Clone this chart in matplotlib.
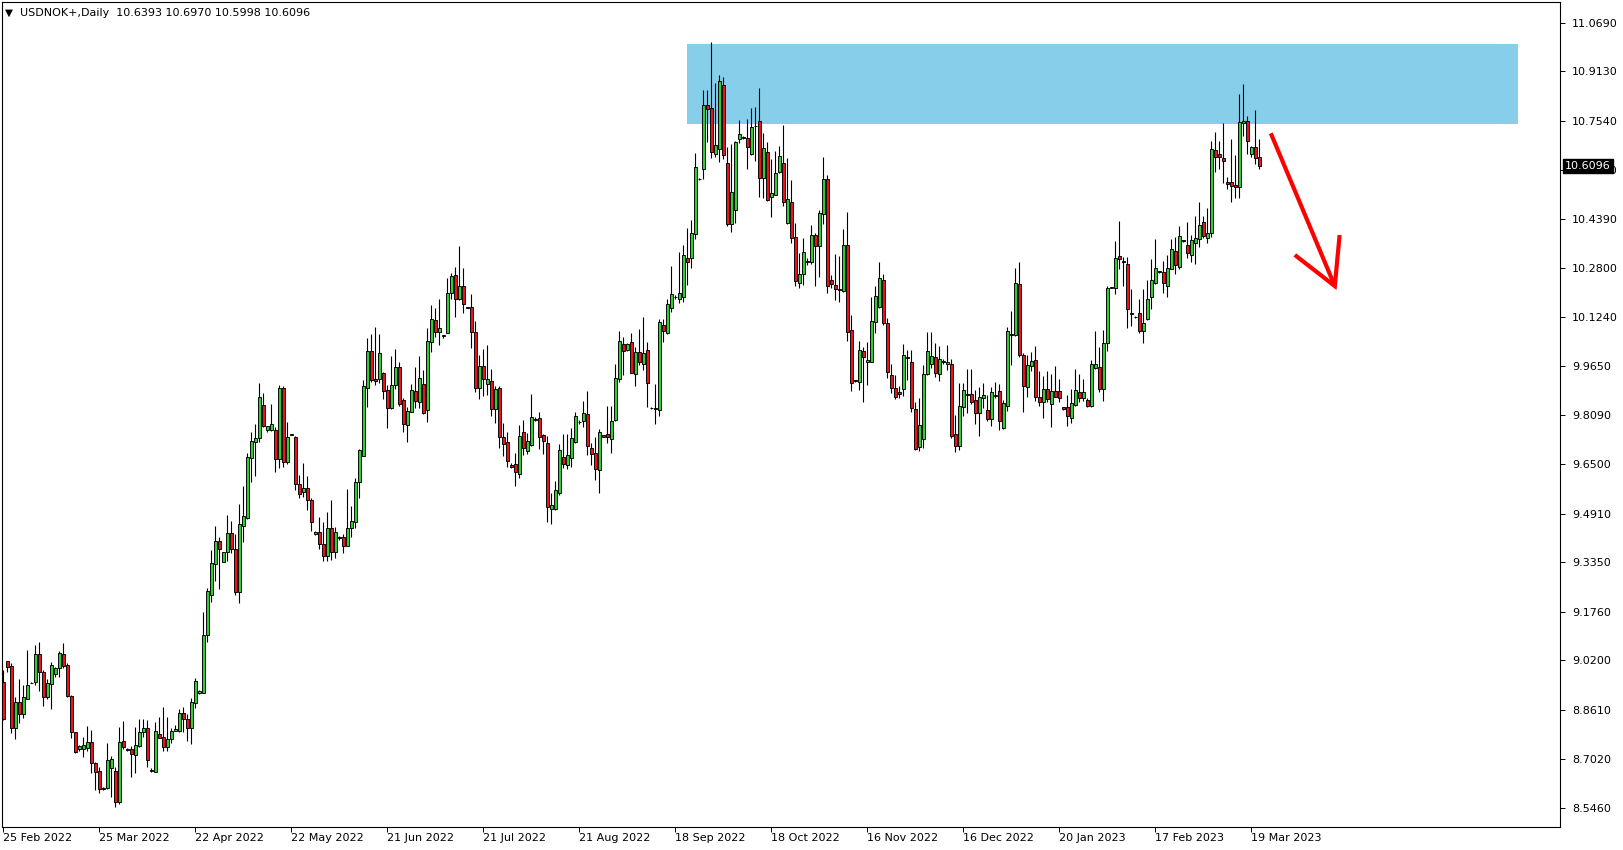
import matplotlib
matplotlib.use("Agg")
import matplotlib.pyplot as plt
from matplotlib.patches import Rectangle
from matplotlib.transforms import blended_transform_factory

# ---------------- data (USDNOK+, Daily) ----------------
opens = [
    8.951, 9.017, 9.001, 8.801, 8.886, 8.849, 8.897, 8.947, 8.949, 9.042,
    8.981, 8.901, 8.943, 8.975, 8.994, 9.042, 9.005, 8.904, 8.789, 8.734,
    8.736, 8.737, 8.756, 8.690, 8.663, 8.605, 8.609, 8.673, 8.664, 8.564,
    8.761, 8.735, 8.735, 8.716, 8.746, 8.789, 8.803, 8.666, 8.662, 8.782,
    8.773, 8.742, 8.766, 8.794, 8.793, 8.850, 8.832, 8.801, 8.882, 8.914,
    8.916, 9.101, 9.230, 9.329, 9.404, 9.337, 9.367, 9.428, 9.378, 9.241,
    9.453, 9.479, 9.669, 9.723, 9.734, 9.840, 9.759, 9.759, 9.760, 9.666,
    9.894, 9.659, 9.744, 9.738, 9.587, 9.560, 9.573, 9.535, 9.425, 9.431,
    9.395, 9.356, 9.447, 9.367, 9.417, 9.415, 9.389, 9.444, 9.466, 9.592,
    9.678, 9.896, 10.013, 9.923, 9.924, 9.942, 9.888, 9.830, 9.904, 9.962,
    9.856, 9.778, 9.819, 9.885, 9.851, 9.907, 9.826, 10.044, 10.113, 10.076,
    10.066, 10.073, 10.200, 10.257, 10.180, 10.222, 10.155, 10.155, 10.076, 9.896,
    9.965, 9.907, 9.918, 9.827, 9.894, 9.738, 9.721, 9.647, 9.650, 9.618,
    9.753, 9.694, 9.713, 9.793, 9.798, 9.744, 9.717, 9.508, 9.508, 9.559,
    9.672, 9.649, 9.671, 9.723, 9.785, 9.788, 9.811, 9.701, 9.685, 9.633,
    9.743, 9.746, 9.733, 9.791, 9.925, 10.036, 10.017, 10.042, 9.939, 10.010,
    9.972, 10.016, 9.832, 9.830, 9.825, 10.097, 10.071, 10.151, 10.189, 10.180,
    10.189, 10.312, 10.312, 10.390, 10.568, 10.598, 10.804, 10.794, 10.646, 10.665,
    10.868, 10.617, 10.421, 10.468, 10.695, 10.701, 10.698, 10.646, 10.739, 10.752,
    10.571, 10.653, 10.508, 10.517, 10.591, 10.617, 10.427, 10.492, 10.380, 10.232,
    10.261, 10.302, 10.301, 10.387, 10.353, 10.455, 10.566, 10.242, 10.225, 10.213,
    10.208, 10.355, 10.081, 9.920, 9.916, 10.014, 9.978, 9.980, 10.106, 10.157,
    10.242, 10.103, 9.937, 9.894, 9.881, 9.893, 9.995, 9.979, 9.827, 9.707,
    9.733, 9.939, 9.973, 9.995, 9.939, 9.978, 9.971, 9.974, 9.746, 9.710,
    9.835, 9.875, 9.875, 9.856, 9.816, 9.862, 9.825, 9.797, 9.874, 9.885,
    9.766, 9.838, 10.069, 10.066, 10.229, 10.001, 9.897, 9.965, 9.985, 9.865,
    9.851, 9.892, 9.843, 9.886, 9.885, 9.834, 9.833, 9.800, 9.841, 9.881,
    9.862, 9.856, 9.838, 9.961, 9.962, 9.891, 10.039, 10.218, 10.216, 10.319,
    10.302, 10.294, 10.132, 10.124, 10.135, 10.080, 10.116, 10.189, 10.232, 10.270,
    10.268, 10.224, 10.279, 10.336, 10.285, 10.370, 10.355, 10.322, 10.360, 10.373,
    10.428, 10.379, 10.394, 10.659, 10.649, 10.634, 10.556, 10.559, 10.548, 10.543,
    10.746, 10.752, 10.646, 10.670, 10.6393,
]
highs = [
    8.989, 9.017, 9.010, 8.903, 8.959, 8.941, 9.053, 8.951, 9.069, 9.078,
    8.989, 8.959, 9.014, 9.000, 9.049, 9.075, 9.010, 8.909, 8.791, 8.748,
    8.775, 8.809, 8.796, 8.694, 8.678, 8.614, 8.753, 8.714, 8.678, 8.807,
    8.825, 8.739, 8.745, 8.807, 8.830, 8.830, 8.828, 8.673, 8.821, 8.837,
    8.869, 8.839, 8.801, 8.812, 8.864, 8.871, 8.846, 8.898, 8.962, 8.925,
    9.176, 9.254, 9.375, 9.452, 9.418, 9.369, 9.487, 9.468, 9.425, 9.521,
    9.581, 9.685, 9.755, 9.779, 9.910, 9.878, 9.774, 9.843, 9.771, 9.905,
    9.903, 9.787, 9.747, 9.740, 9.616, 9.653, 9.612, 9.541, 9.437, 9.480,
    9.466, 9.498, 9.535, 9.450, 9.420, 9.426, 9.571, 9.517, 9.607, 9.699,
    9.921, 10.057, 10.069, 10.091, 10.069, 9.946, 9.905, 9.999, 10.021, 9.980,
    9.862, 9.835, 9.908, 9.963, 9.999, 9.953, 10.087, 10.162, 10.151, 10.181,
    10.067, 10.248, 10.264, 10.283, 10.352, 10.280, 10.156, 10.196, 10.111, 10.003,
    10.020, 10.033, 9.958, 9.902, 9.902, 9.784, 9.754, 9.653, 9.688, 9.775,
    9.792, 9.750, 9.875, 9.801, 9.819, 9.747, 9.741, 9.557, 9.596, 9.715,
    9.747, 9.747, 9.766, 9.819, 9.792, 9.853, 9.886, 9.720, 9.737, 9.762,
    9.745, 9.839, 9.837, 9.972, 10.079, 10.058, 10.039, 10.071, 10.028, 10.085,
    10.122, 10.042, 9.834, 9.908, 10.116, 10.116, 10.180, 10.287, 10.193, 10.331,
    10.355, 10.411, 10.435, 10.650, 10.570, 10.853, 10.853, 11.006, 10.875, 10.901,
    10.894, 10.671, 10.680, 10.690, 10.757, 10.705, 10.761, 10.794, 10.798, 10.858,
    10.716, 10.687, 10.631, 10.658, 10.673, 10.740, 10.636, 10.564, 10.427, 10.328,
    10.376, 10.312, 10.419, 10.394, 10.467, 10.637, 10.580, 10.260, 10.325, 10.319,
    10.408, 10.460, 10.130, 9.922, 10.046, 10.028, 10.042, 10.188, 10.224, 10.301,
    10.262, 10.121, 9.972, 9.937, 9.902, 10.036, 10.019, 10.017, 9.851, 9.864,
    9.969, 10.074, 10.074, 10.039, 10.030, 9.987, 10.033, 9.987, 9.808, 9.913,
    9.913, 9.956, 9.958, 9.889, 9.900, 9.913, 9.873, 9.900, 9.916, 9.908,
    9.857, 10.090, 10.143, 10.280, 10.301, 10.007, 10.003, 10.012, 10.030, 9.951,
    9.935, 9.951, 9.939, 9.966, 9.924, 9.835, 9.873, 9.891, 9.956, 9.939,
    9.924, 9.864, 9.985, 10.078, 10.028, 10.082, 10.224, 10.221, 10.368, 10.432,
    10.315, 10.317, 10.213, 10.126, 10.180, 10.212, 10.244, 10.310, 10.374, 10.272,
    10.303, 10.323, 10.374, 10.382, 10.416, 10.372, 10.428, 10.387, 10.449, 10.494,
    10.449, 10.475, 10.690, 10.718, 10.689, 10.747, 10.572, 10.696, 10.644, 10.840,
    10.874, 10.769, 10.674, 10.789, 10.6970,
]
lows = [
    8.828, 8.981, 8.785, 8.766, 8.818, 8.834, 8.897, 8.946, 8.941, 8.922,
    8.874, 8.895, 8.863, 8.965, 8.967, 8.994, 8.901, 8.769, 8.721, 8.730,
    8.710, 8.729, 8.657, 8.603, 8.593, 8.603, 8.605, 8.582, 8.550, 8.558,
    8.734, 8.730, 8.644, 8.659, 8.742, 8.775, 8.678, 8.660, 8.660, 8.769,
    8.729, 8.730, 8.753, 8.794, 8.791, 8.791, 8.762, 8.751, 8.868, 8.912,
    8.914, 9.078, 9.206, 9.275, 9.249, 9.335, 9.339, 9.364, 9.230, 9.203,
    9.399, 9.474, 9.594, 9.614, 9.723, 9.770, 9.753, 9.757, 9.624, 9.639,
    9.643, 9.652, 9.743, 9.567, 9.541, 9.546, 9.503, 9.437, 9.423, 9.377,
    9.340, 9.340, 9.342, 9.348, 9.407, 9.366, 9.387, 9.417, 9.444, 9.543,
    9.676, 9.835, 9.916, 9.905, 9.910, 9.860, 9.768, 9.828, 9.892, 9.838,
    9.755, 9.723, 9.817, 9.830, 9.830, 9.812, 9.787, 10.012, 10.058, 10.033,
    10.057, 10.071, 10.180, 10.125, 10.178, 10.138, 10.151, 10.023, 9.881, 9.860,
    9.870, 9.873, 9.806, 9.784, 9.701, 9.678, 9.642, 9.637, 9.581, 9.605,
    9.680, 9.683, 9.710, 9.789, 9.699, 9.683, 9.466, 9.458, 9.503, 9.551,
    9.637, 9.635, 9.642, 9.720, 9.780, 9.771, 9.680, 9.647, 9.600, 9.557,
    9.737, 9.717, 9.687, 9.789, 9.916, 9.936, 10.015, 9.942, 9.903, 9.969,
    9.953, 9.835, 9.829, 9.779, 9.805, 10.044, 10.069, 10.141, 10.182, 10.170,
    10.173, 10.226, 10.280, 10.373, 10.565, 10.566, 10.686, 10.636, 10.639, 10.623,
    10.632, 10.416, 10.398, 10.425, 10.684, 10.697, 10.600, 10.644, 10.625, 10.510,
    10.505, 10.497, 10.446, 10.515, 10.587, 10.481, 10.422, 10.360, 10.223, 10.216,
    10.226, 10.291, 10.294, 10.224, 10.253, 10.423, 10.201, 10.218, 10.178, 10.173,
    10.205, 10.046, 9.886, 9.915, 9.889, 9.851, 9.905, 9.978, 10.073, 10.151,
    10.098, 9.928, 9.878, 9.860, 9.862, 9.871, 9.921, 9.819, 9.696, 9.693,
    9.703, 9.937, 9.961, 9.932, 9.918, 9.971, 9.953, 9.736, 9.691, 9.696,
    9.805, 9.814, 9.843, 9.780, 9.742, 9.830, 9.789, 9.774, 9.862, 9.761,
    9.762, 9.822, 9.969, 10.062, 9.996, 9.819, 9.867, 9.951, 9.853, 9.837,
    9.800, 9.849, 9.771, 9.866, 9.851, 9.826, 9.774, 9.782, 9.838, 9.851,
    9.853, 9.834, 9.833, 9.955, 9.883, 9.855, 10.014, 10.217, 10.199, 10.277,
    10.223, 10.089, 10.094, 10.121, 10.071, 10.041, 10.114, 10.148, 10.230, 10.264,
    10.202, 10.189, 10.277, 10.262, 10.278, 10.366, 10.312, 10.301, 10.293, 10.349,
    10.376, 10.362, 10.382, 10.591, 10.600, 10.555, 10.536, 10.494, 10.507, 10.505,
    10.706, 10.646, 10.639, 10.615, 10.5998,
]
closes = [
    8.831, 9.000, 8.801, 8.886, 8.849, 8.902, 8.940, 8.948, 9.040, 8.981,
    8.901, 8.947, 9.005, 8.994, 9.044, 9.003, 8.904, 8.789, 8.724, 8.745,
    8.748, 8.758, 8.689, 8.662, 8.605, 8.611, 8.699, 8.703, 8.564, 8.756,
    8.742, 8.732, 8.719, 8.747, 8.789, 8.803, 8.700, 8.664, 8.792, 8.771,
    8.742, 8.767, 8.792, 8.798, 8.850, 8.830, 8.801, 8.885, 8.954, 8.920,
    9.101, 9.243, 9.333, 9.404, 9.377, 9.367, 9.428, 9.377, 9.241, 9.457,
    9.483, 9.672, 9.725, 9.734, 9.866, 9.773, 9.772, 9.779, 9.666, 9.894,
    9.659, 9.738, 9.746, 9.586, 9.556, 9.573, 9.534, 9.466, 9.431, 9.395,
    9.356, 9.447, 9.367, 9.431, 9.414, 9.389, 9.444, 9.468, 9.592, 9.695,
    9.901, 10.013, 9.921, 9.919, 10.007, 9.887, 9.830, 9.904, 9.962, 9.844,
    9.781, 9.820, 9.888, 9.855, 9.926, 9.814, 10.045, 10.116, 10.076, 10.087,
    10.062, 10.200, 10.254, 10.180, 10.222, 10.166, 10.153, 10.076, 9.896, 9.965,
    9.924, 9.923, 9.827, 9.891, 9.737, 9.716, 9.662, 9.643, 9.626, 9.740,
    9.701, 9.724, 9.801, 9.796, 9.737, 9.724, 9.514, 9.518, 9.566, 9.695,
    9.651, 9.679, 9.735, 9.804, 9.787, 9.814, 9.710, 9.682, 9.636, 9.753,
    9.739, 9.739, 9.788, 9.926, 10.045, 10.015, 10.036, 9.944, 10.010, 9.980,
    10.007, 9.910, 9.830, 9.828, 10.106, 10.079, 10.164, 10.196, 10.187, 10.200,
    10.322, 10.301, 10.392, 10.605, 10.566, 10.804, 10.793, 10.655, 10.675, 10.882,
    10.645, 10.421, 10.524, 10.685, 10.711, 10.699, 10.671, 10.735, 10.736, 10.569,
    10.666, 10.500, 10.522, 10.586, 10.641, 10.494, 10.502, 10.378, 10.240, 10.261,
    10.331, 10.299, 10.387, 10.353, 10.458, 10.567, 10.222, 10.231, 10.212, 10.210,
    10.355, 10.076, 9.912, 9.917, 10.016, 9.994, 9.984, 10.111, 10.190, 10.248,
    10.103, 9.948, 9.894, 9.867, 9.877, 10.003, 9.993, 9.830, 9.698, 9.778,
    9.939, 10.013, 9.998, 9.942, 9.988, 9.981, 9.979, 9.741, 9.710, 9.836,
    9.889, 9.872, 9.851, 9.816, 9.865, 9.872, 9.796, 9.881, 9.871, 9.790,
    9.846, 10.077, 10.067, 10.232, 10.001, 9.903, 9.968, 9.982, 9.867, 9.851,
    9.892, 9.859, 9.886, 9.867, 9.864, 9.827, 9.806, 9.846, 9.888, 9.862,
    9.882, 9.837, 9.971, 9.971, 9.891, 10.039, 10.217, 10.220, 10.313, 10.311,
    10.299, 10.148, 10.138, 10.122, 10.080, 10.103, 10.180, 10.244, 10.280, 10.267,
    10.232, 10.280, 10.341, 10.291, 10.384, 10.367, 10.328, 10.370, 10.376, 10.419,
    10.385, 10.393, 10.662, 10.637, 10.637, 10.626, 10.550, 10.546, 10.543, 10.749,
    10.752, 10.690, 10.670, 10.636, 10.6096,
]

date_labels = ["25 Feb 2022", "25 Mar 2022", "22 Apr 2022", "22 May 2022",
               "21 Jun 2022", "21 Jul 2022", "21 Aug 2022", "18 Sep 2022",
               "18 Oct 2022", "16 Nov 2022", "16 Dec 2022", "20 Jan 2023",
               "17 Feb 2023", "19 Mar 2023"]
date_label_step = 24   # bars between date labels

price_ticks = [11.0690, 10.9130, 10.7540, 10.5960, 10.4390, 10.2800, 10.1240,
               9.9650, 9.8090, 9.6500, 9.4910, 9.3350, 9.1760, 9.0200,
               8.8610, 8.7020, 8.5460]

title_text = "USDNOK+,Daily  10.6393 10.6970 10.5998 10.6096"
last_price = 10.6096

# resistance zone (bar index range, price range)
zone_bars = [171.0, 378.7]
zone_prices = [10.745, 11.001]

# hand drawn arrow (bar index, price)
arrow_shaft_x = [316.9, 332.9]
arrow_shaft_y = [10.714, 10.223]
arrow_head_x = [322.9, 332.9, 334.1]
arrow_head_y = [10.323, 10.223, 10.387]

# ---------------- figure ----------------
W, H = 1624, 850
fig = plt.figure(figsize=(W / 100, H / 100), dpi=100)
fig.patch.set_facecolor("white")
left_px, right_px, top_px, bottom_px = 2, 1560, 2, 826.5
ax = fig.add_axes([left_px / W, 1 - bottom_px / H,
                   (right_px - left_px) / W, (bottom_px - top_px) / H])
ax.set_xlim(-0.325, 389.2)
ax.set_ylim(8.486, 11.136)
ax.set_facecolor("white")

GREEN = "#32cd32"
RED = "#e8141b"

# zone
ax.add_patch(Rectangle((zone_bars[0], zone_prices[0]),
                       zone_bars[1] - zone_bars[0],
                       zone_prices[1] - zone_prices[0],
                       facecolor="#87ceeb", edgecolor="none", zorder=1))

# candles
n = len(closes)
xs = list(range(n))
ax.vlines(xs, lows, highs, colors="black", linewidth=0.8, zorder=2)
body_w = 0.8
for i in xs:
    o, c = opens[i], closes[i]
    color = GREEN if c >= o else RED
    lo, hi = min(o, c), max(o, c)
    ax.add_patch(Rectangle((i - body_w / 2, lo), body_w, max(hi - lo, 0.0005),
                           facecolor=color, edgecolor="black",
                           linewidth=0.65, zorder=3))

# arrow
ax.plot(arrow_shaft_x, arrow_shaft_y, color="#ff0000", linewidth=3.0,
        solid_capstyle="butt", zorder=5)
ax.plot(arrow_head_x, arrow_head_y, color="#ff0000", linewidth=3.0,
        solid_capstyle="butt", solid_joinstyle="miter", zorder=5)

# axes styling
for s in ax.spines.values():
    s.set_color("black")
    s.set_linewidth(0.8)

ax.yaxis.tick_right()
ax.set_yticks(price_ticks)
ax.set_yticklabels([f"{p:.4f}" for p in price_ticks])
ax.tick_params(axis="y", direction="out", length=3.5, width=0.7,
               pad=5, labelsize=8, colors="black")

tick_pos = [k * date_label_step for k in range(len(date_labels))]
ax.set_xticks(tick_pos)
ax.set_xticklabels(date_labels)
ax.tick_params(axis="x", direction="out", length=3.5, width=0.7,
               pad=1.5, labelsize=8, colors="black")
for lab in ax.get_xticklabels():
    lab.set_horizontalalignment("left")

# current price label (drawn over the 10.5960 tick label, as in the terminal)
trans = blended_transform_factory(ax.transAxes, ax.transData)
ax.text(1.0 + 5.0 / (right_px - left_px), last_price, f"{last_price:.4f}",
        transform=trans, ha="left", va="center", fontsize=8, color="white",
        bbox=dict(boxstyle="square,pad=0.2", facecolor="black",
                  edgecolor="black"), zorder=10, clip_on=False)

# header
fig.text(5 / W, 1 - 12.5 / H, "\u25bc", fontsize=7.5, color="black",
         ha="left", va="center")
fig.text(20.5 / W, 1 - 12.5 / H, title_text, fontsize=8, color="black",
         ha="left", va="center")

fig.savefig("out.png", dpi=100, facecolor="white")
